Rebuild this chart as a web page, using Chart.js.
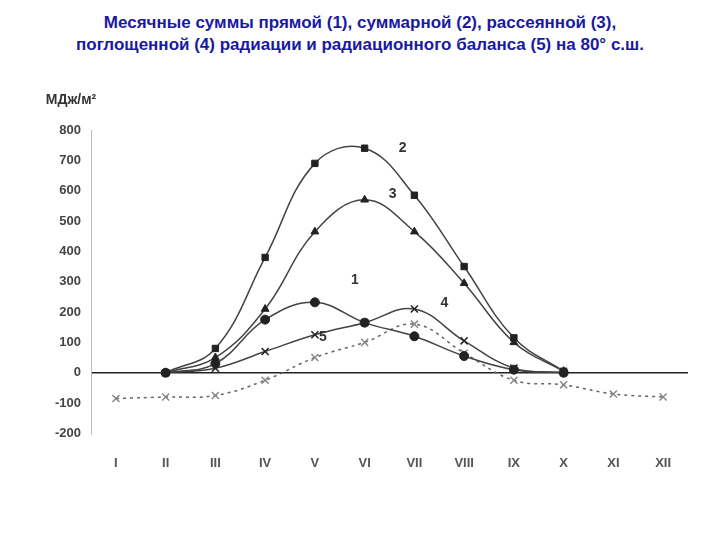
<!DOCTYPE html>
<html>
<head>
<meta charset="utf-8">
<script src="https://cdn.jsdelivr.net/npm/chart.js@4"></script>
<style>
  body { margin: 0; background: #fff; font-family: Arial, "Liberation Sans", sans-serif; }
  #title { position: absolute; top: 12px; left: 0; width: 720px; text-align: center; color: #1a1aa0; font-weight: bold; font-size: 17px; line-height: 22px; }
  #wrap { position: absolute; left: 20px; top: 85px; width: 680px; height: 400px; }
</style>
</head>
<body>
<div id="title">Месячные суммы прямой (1), суммарной (2), рассеянной (3),<br>поглощенной (4) радиации и радиационного баланса (5) на 80° с.ш.</div>
<div id="wrap"><canvas id="c" width="680" height="400"></canvas></div>
<script>
const months = ['I', 'II', 'III', 'IV', 'V', 'VI', 'VII', 'VIII', 'IX', 'X', 'XI', 'XII'];
const direct = [null, 0, 30, 175, 232, 165, 120, 55, 10, 0, null, null];
const total = [null, 0, 80, 380, 690, 740, 585, 350, 115, 5, null, null];
const diffuse = [null, 0, 50, 210, 465, 570, 465, 295, 100, 5, null, null];
const absorbed = [null, 0, 15, 70, 125, 165, 210, 105, 15, 0, null, null];
const balance = [-85, -80, -75, -25, 50, 100, 160, 65, -25, -40, -70, -80];
const yTicks = [-200, -100, 0, 100, 200, 300, 400, 500, 600, 700, 800];

// curve numbers: [label, dataset index, point index, dx, dy]
const curveLabels = [['1', 0, 4, 40, -22], ['2', 1, 5, 38, 0], ['3', 2, 5, 28, -6], ['4', 3, 6, 30, -6], ['5', 4, 4, 8, -20]];

const labelPlugin = {
    id: 'curveLabels',
    afterDatasetsDraw(chart) {
        const ctx = chart.ctx;
        ctx.save();
        ctx.fillStyle = '#333';
        ctx.font = 'bold 14px Arial';
        ctx.textAlign = 'center';
        ctx.textBaseline = 'middle';
        curveLabels.forEach(([t, d, i, dx, dy]) => {
            const p = chart.getDatasetMeta(d).data[i];
            ctx.fillText(t, p.x + dx, p.y + dy);
        });
        ctx.fillText('МДж/м²', chart.chartArea.left - 20, chart.chartArea.top - 30);
        ctx.restore();
    }
};

function ds(data, style, dashed) {
    return {
        data: data, pointStyle: style, borderColor: '#444', backgroundColor: '#222',
        pointBorderColor: '#222', borderWidth: 1.5, pointRadius: style === 'crossRot' ? 5 : 4.5,
        pointBorderWidth: style === 'crossRot' ? 1.5 : 1, tension: 0.4,
        borderDash: dashed ? [3, 4] : [], spanGaps: false
    };
}

new Chart(document.getElementById('c'), {
    type: 'line',
    data: {
        labels: months,
        datasets: [
            ds(direct, 'circle'),
            ds(total, 'rect'),
            ds(diffuse, 'triangle'),
            ds(absorbed, 'crossRot'),
            Object.assign(ds(balance, 'crossRot', true), { borderColor: '#666', pointBorderColor: '#888' })
        ]
    },
    options: {
        animation: false,
        responsive: false,
        layout: { padding: { top: 45, right: 12, left: 25 } },
        plugins: { legend: { display: false }, tooltip: { enabled: false } },
        scales: {
            x: {
                offset: true,
                grid: { display: false },
                border: { display: false },
                ticks: { color: '#555', font: { size: 13, weight: 'bold' }, padding: 14, maxRotation: 0, autoSkip: false }
            },
            y: {
                min: -200, max: 800,
                afterBuildTicks: axis => { axis.ticks = yTicks.map(v => ({ value: v })); },
                grid: {
                    drawTicks: false,
                    color: c => c.tick && c.tick.value === 0 ? '#222' : 'rgba(0,0,0,0)',
                    lineWidth: 1.5
                },
                border: { display: true, color: '#bbb' },
                ticks: { color: '#444', font: { size: 13, weight: 'bold' }, padding: 10, autoSkip: false }
            }
        }
    },
    plugins: [labelPlugin]
});
</script>
</body>
</html>
